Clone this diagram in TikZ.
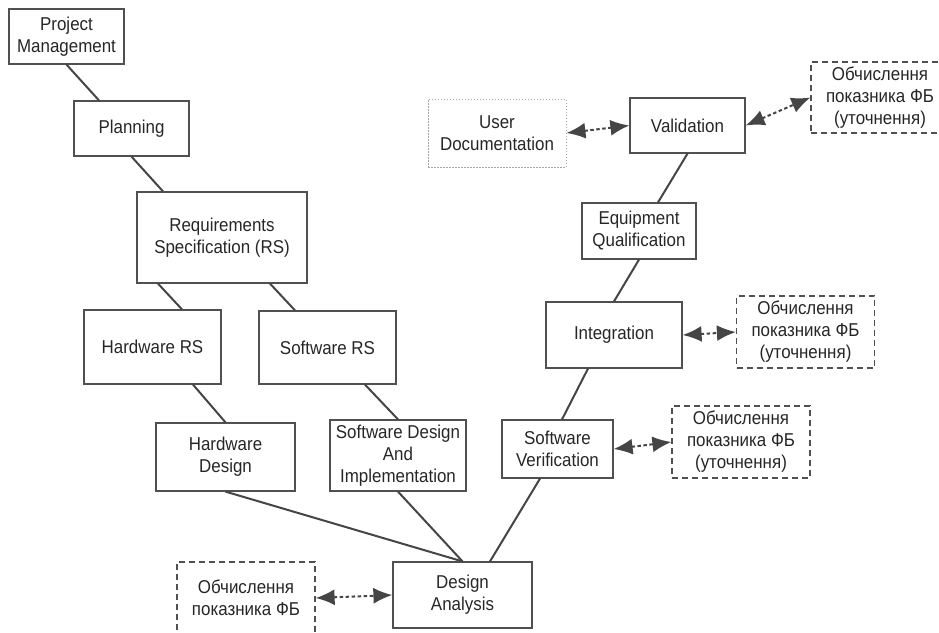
\documentclass[tikz,border=0pt]{standalone}
\usepackage{fontspec}
\setmainfont{Liberation Sans}[FakeStretch=0.91]
\usepackage{xcolor}
\usepackage{tikz}
\usetikzlibrary{arrows.meta, positioning}

\definecolor{boxline}{HTML}{505050}
\definecolor{connline}{HTML}{454545}

\begin{document}
\begin{tikzpicture}[
			x=1pt, y=-1pt,
			every node/.style = {font=\fontsize{18.6}{22}\selectfont, text=black!85},
			stageblock/.style = {rectangle, draw=boxline, line width=1.2pt,
					align=center, inner sep=0pt},
			calcblock/.style = {rectangle, draw=boxline, line width=1.2pt,
					dash pattern=on 6pt off 4pt, align=center, inner sep=0pt,
					minimum width=138, minimum height=72},
			docblock/.style = {rectangle, draw=gray!70, line width=0.9pt,
					dash pattern=on 1.5pt off 1.5pt, align=center, inner sep=0pt},
			line/.style = {draw=connline, line width=2pt},
			linkline/.style = {draw=connline, line width=2pt, dash pattern=on 3.5pt off 2.5pt,
					{Latex[length=19pt,width=16pt]}-{Latex[length=19pt,width=16pt]}},
		]
		\useasboundingbox (0,0) rectangle (939,632);

		% Left branch
		\node [stageblock, minimum width=115, minimum height=55] (pm) at (66.5,36.5) {Project\\Management};
		\node [stageblock, minimum width=115, minimum height=55] (plan) at (131.5,128.5) {Planning};
		\node [stageblock, minimum width=170, minimum height=91] (rs) at (222,237.5) {Requirements\\Specification (RS)};
		\node [stageblock, minimum width=137, minimum height=74] (hwrs) at (152.5,347) {Hardware RS};
		\node [stageblock, minimum width=137, minimum height=73] (swrs) at (327.5,347.5) {Software RS};
		\node [stageblock, minimum width=139, minimum height=68] (hwd) at (225.5,457) {Hardware\\Design};
		\node [stageblock, minimum width=136, minimum height=71] (swd) at (398,455.5) {Software Design\\And\\Implementation};

		% Bottom
		\node [stageblock, minimum width=139, minimum height=66] (da) at (462.5,595) {Design\\Analysis};
		\node [calcblock] (fbda) at (246,598) {Обчислення\\показника ФБ};

		% Right branch
		\node [stageblock, minimum width=111, minimum height=58] (swv) at (557.5,449) {Software\\Verification};
		\node [stageblock, minimum width=136, minimum height=66] (integ) at (614,335) {Integration};
		\node [stageblock, minimum width=114, minimum height=56] (eq) at (639,231) {Equipment\\Qualification};
		\node [stageblock, minimum width=115, minimum height=55] (val) at (687.5,125.5) {Validation};
		\node [docblock, minimum width=138, minimum height=68] (ud) at (497,133) {User\\Documentation};
		\node [calcblock] (fbv) at (741,442) {Обчислення\\показника ФБ\\(уточнення)};
		\node [calcblock] (fbi) at (805.5,332) {Обчислення\\показника ФБ\\(уточнення)};
		\node [calcblock, minimum height=71] (fbval) at (880,97.5) {Обчислення\\показника ФБ\\(уточнення)};

		% Draw lines
		\path [line] (pm.south) -- ([xshift=-32.5pt]plan.north);
		\path [line] (plan.south) -- ([xshift=-59pt]rs.north);
		\path [line] ([xshift=-64pt]rs.south) -- ([xshift=29.5pt]hwrs.north);
		\path [line] ([xshift=48pt]rs.south) -- ([xshift=-32.5pt]swrs.north);
		\path [line] ([xshift=40.5pt]hwrs.south) -- (hwd.north);
		\path [line] ([xshift=37.5pt]swrs.south) -- (swd.north);
		\path [line] (hwd.south) -- (da.north);
		\path [line] (swd.south) -- (da.north);
		\path [line] ([xshift=-17.5pt]swv.south) -- ([xshift=27.5pt]da.north);
		\path [line] ([xshift=-26pt]integ.south) -- ([xshift=4.5pt]swv.north);
		\path [line] (eq.south) -- (integ.north);
		\path [line] (val.south) -- ([xshift=19pt]eq.north);

		% Draw links
		\path [linkline] (fbda.east) -- (da.west);
		\path [linkline] (ud.east) -- (val.west);
		\path [linkline] (val.east) -- (fbval.west);
		\path [linkline] (integ.east) -- (fbi.west);
		\path [linkline] (swv.east) -- (fbv.west);

	\end{tikzpicture}
\end{document}
